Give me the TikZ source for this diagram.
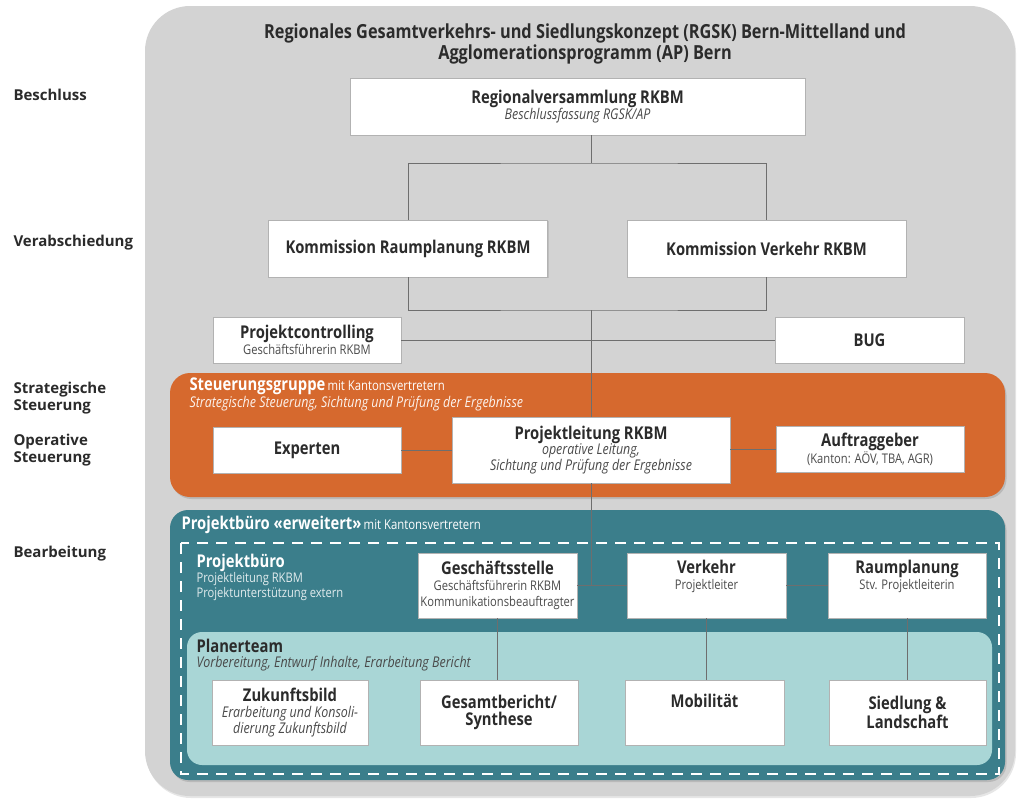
\documentclass[tikz,border=0pt]{standalone}
\usepackage{fontspec}
\setmainfont{Open Sans}[FakeStretch=0.84]
\newfontfamily\labelfont{Open Sans}
\usetikzlibrary{shadows}
\definecolor{bggray}{HTML}{D3D3D3}
\definecolor{sgorange}{HTML}{D6692E}
\definecolor{pbteal}{HTML}{3B7E8B}
\definecolor{ptteal}{HTML}{A9D6D6}
\definecolor{txtdark}{HTML}{2B2B2B}
\definecolor{txtsub}{HTML}{4A4A4A}
\definecolor{linegray}{HTML}{6E6E6E}
\newcommand{\boxhead}[1]{{\fontsize{17.6}{19}\selectfont\bfseries #1}}
\newcommand{\boxsub}[1]{{\fontsize{13.3}{16}\selectfont\color{txtsub}#1}}
\newcommand{\boxsubit}[1]{{\fontsize{14.8}{16}\selectfont\itshape\color{txtsub}#1}}
\begin{document}
\begin{tikzpicture}[x=1pt, y=-1pt,
    box/.style={draw=black!30, fill=white, inner sep=2pt, align=center, text=txtdark,
      font=\fontsize{14.8}{15.8}\selectfont,
      drop shadow={shadow xshift=1.2pt, shadow yshift=-1.2pt, opacity=0.25}},
    headbox/.style={box, font=\fontsize{17.6}{17.5}\selectfont\bfseries},
    area/.style={rounded corners=#1, drop shadow={shadow xshift=1.5pt, shadow yshift=-2pt, opacity=0.3}},
    conn/.style={draw=linegray, line width=0.7pt},
    stage/.style={anchor=west, align=left, text=txtdark, font=\labelfont\fontsize{15}{17}\selectfont\bfseries},
    areatitle/.style={anchor=west, align=left}]
    % Rahmen
    \useasboundingbox (0,0) rectangle (1018,801);
    \fill[bggray, rounded corners=45, drop shadow={shadow xshift=1pt, shadow yshift=-2pt, opacity=0.2}] (145,6) rectangle (1015,796);

    % Titel
    \node[align=center, text=txtdark, font=\fontsize{19.4}{21}\selectfont\bfseries] (title) at (585,44)
      {Regionales Gesamtverkehrs- und Siedlungskonzept (RGSK) Bern-Mittelland und\\Agglomerationsprogramm (AP) Bern};

    % Ebenen links
    \node[stage] (s1) at (10,95) {Beschluss};
    \node[stage] (s2) at (10,243) {Verabschiedung};
    \node[stage] (s3) at (10,398) {Strategische\\Steuerung};
    \node[stage] (s4) at (10,450) {Operative\\Steuerung};
    \node[stage] (s5) at (10,554) {Bearbeitung};

    % Beschluss und Verabschiedung
    \node[box, minimum width=455pt, minimum height=57pt] (rv) at (577.5,106.5)
      {\boxhead{Regionalversammlung RKBM}\\\boxsubit{Beschlussfassung RGSK/AP}};
    \node[headbox, minimum width=279pt, minimum height=57pt] (kr) at (408,248.5)
      {Kommission Raumplanung RKBM};
    \node[headbox, minimum width=279pt, minimum height=57pt] (kv) at (766.5,248.5)
      {Kommission Verkehr RKBM};
    \node[box, minimum width=188pt, minimum height=46pt] (pc) at (307,340)
      {\boxhead{Projektcontrolling}\\\boxsub{Geschäftsführerin RKBM}};
    \node[headbox, minimum width=189pt, minimum height=46pt] (bug) at (869.5,340)
      {BUG};

    % Steuerungsgruppe
    \fill[sgorange, area=20] (170,373) rectangle (1005,497);
    \node[areatitle, text=white] (sg) at (186,386)
      {\boxhead{Steuerungsgruppe} {\fontsize{13.5}{16}\selectfont mit Kantonsvertretern}};
    \node[areatitle, text=white!92!sgorange] (sgsub) at (186,404)
      {\fontsize{14.8}{16}\selectfont\itshape Strategische Steuerung, Sichtung und Prüfung der Ergebnisse};
    \node[headbox, minimum width=188pt, minimum height=46pt] (ex) at (307,450)
      {Experten};
    \node[box, minimum width=278pt, minimum height=66pt] (pl) at (591,450)
      {\boxhead{Projektleitung RKBM}\\\boxsubit{operative Leitung,}\\\boxsubit{Sichtung und Prüfung der Ergebnisse}};
    \node[box, minimum width=188pt, minimum height=46pt] (ag) at (870,449)
      {\boxhead{Auftraggeber}\\\boxsub{(Kanton: AÖV, TBA, AGR)}};

    % Projektbuero erweitert
    \fill[pbteal, area=18] (170,510) rectangle (1005,780);
    \node[areatitle, text=white] (pbe) at (178,525)
      {\boxhead{Projektbüro «erweitert»} {\fontsize{13.5}{16}\selectfont mit Kantonsvertretern}};
    \draw[white, line width=2.4pt, dash pattern=on 11pt off 8pt] (181,543) rectangle (999,774);
    \node[areatitle, text=white, align=left, font=\fontsize{13.3}{15}\selectfont] (pb) at (193,577)
      {\boxhead{Projektbüro}\\{\color{white!85!pbteal}Projektleitung RKBM}\\{\color{white!85!pbteal}Projektunterstützung extern}};
    \node[box, minimum width=159pt, minimum height=65pt] (gs) at (497.5,585.5)
      {\boxhead{Geschäftsstelle}\\\boxsub{Geschäftsführerin RKBM}\\\boxsub{Kommunikationsbeauftragter}};
    \node[box, minimum width=159pt, minimum height=65pt] (vk) at (706.5,585.5)
      {\boxhead{Verkehr}\\\boxsub{Projektleiter}\\\boxsub{\strut}};
    \node[box, minimum width=158pt, minimum height=65pt] (rp) at (907,585.5)
      {\boxhead{Raumplanung}\\\boxsub{Stv. Projektleiterin}\\\boxsub{\strut}};

    % Planerteam
    \fill[ptteal, rounded corners=15] (187,632) rectangle (992,765);
    \node[areatitle, text=txtdark] (pt) at (193,646)
      {\boxhead{Planerteam}};
    \node[areatitle, text=txtsub] (ptsub) at (193,664)
      {\fontsize{14.8}{16}\selectfont\itshape Vorbereitung, Entwurf Inhalte, Erarbeitung Bericht};
    \node[box, minimum width=156pt, minimum height=65pt] (zb) at (290,712.5)
      {\boxhead{Zukunftsbild}\\\boxsubit{Erarbeitung und Konsoli-}\\\boxsubit{dierung Zukunftsbild}};
    \node[headbox, minimum width=158pt, minimum height=65pt] (gb) at (499,712.5)
      {Gesamtbericht/\\Synthese};
    \node[headbox, minimum width=159pt, minimum height=65pt] (mo) at (704.5,712.5)
      {Mobilität\\\strut};
    \node[headbox, minimum width=157pt, minimum height=65pt] (sl) at (907.5,712.5)
      {Siedlung \&\\Landschaft};

    % Verbindungen
    \coordinate (j1) at (591,163);
    \coordinate (j2) at (591,310);
    \draw[conn] (rv.south -| j1) -- (j1);
    \draw[conn] (kr.north) |- (j1) -| (kv.north);
    \draw[conn] (kr.south) |- (j2) -| (kv.south);
    \draw[conn] (pc.east) -- (bug.west);
    \draw[conn] (j2) -- (pl.north);
    \draw[conn] (ex.east) -- (pl.west |- ex.east);
    \draw[conn] (pl.east |- ag.west) -- (ag.west);
    \draw[conn] (pl.south) -- (pl.south |- gs.east);
    \draw[conn] (gs.east) -- (vk.west);
    \draw[conn] (vk.east) -- (rp.west);
    \draw[conn] (gs.south) -- (gs.south |- gb.north);
    \draw[conn] (vk.south) -- (vk.south |- mo.north);
    \draw[conn] (rp.south) -- (rp.south |- sl.north);
\end{tikzpicture}
\end{document}
